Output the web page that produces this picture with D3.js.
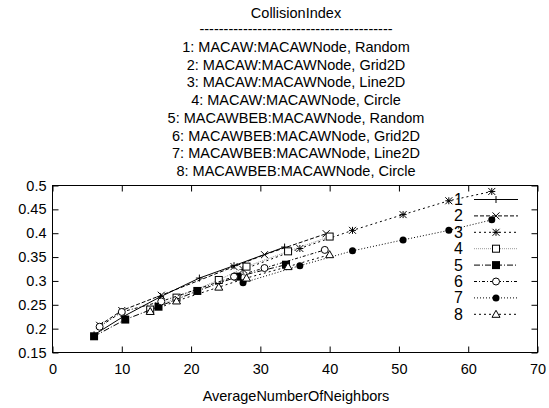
<!DOCTYPE html>
<html><head><meta charset="utf-8">
<script src="https://cdn.jsdelivr.net/npm/d3@7"></script>
<style>
body{margin:0;background:#fff;}
svg text{font-family:"Liberation Sans",Arial,sans-serif;fill:#000;}
</style></head>
<body><svg id="c" width="549" height="408"></svg>
<script>
const titleLines = ["CollisionIndex","----------------------------------------",
 "1: MACAW:MACAWNode, Random","2: MACAW:MACAWNode, Grid2D","3: MACAW:MACAWNode, Line2D","4: MACAW:MACAWNode, Circle",
 "5: MACAWBEB:MACAWNode, Random","6: MACAWBEB:MACAWNode, Grid2D","7: MACAWBEB:MACAWNode, Line2D","8: MACAWBEB:MACAWNode, Circle"];
const xLabel = "AverageNumberOfNeighbors";
const xTicks = [0,10,20,30,40,50,60,70];
const yTicks = [0.15,0.2,0.25,0.3,0.35,0.4,0.45,0.5];
const seriesNames = ["1","2","3","4","5","6","7","8"];
const s1x = [6.0, 10.3, 15.6, 21.2, 26.2, 33.5];
const s1y = [0.187, 0.226, 0.267, 0.306, 0.332, 0.371];
const s2x = [6.8, 10.0, 15.7, 26.2, 30.6, 39.5];
const s2y = [0.207, 0.238, 0.270, 0.330, 0.355, 0.399];
const s3x = [27.5, 35.7, 43.3, 50.6, 57.2, 63.4];
const s3y = [0.324, 0.368, 0.406, 0.439, 0.468, 0.4875];
const s4x = [14.1, 17.9, 24.0, 28.0, 34.0, 40.0];
const s4y = [0.240, 0.265, 0.302, 0.330, 0.362, 0.393];
const s5x = [6.0, 10.5, 15.3, 20.9, 26.7, 33.7];
const s5y = [0.184, 0.219, 0.246, 0.279, 0.309, 0.334];
const s6x = [6.8, 10.0, 15.7, 26.2, 30.6, 39.3];
const s6y = [0.204, 0.235, 0.257, 0.309, 0.327, 0.365];
const s7x = [27.5, 35.7, 43.3, 50.6, 57.2, 63.4];
const s7y = [0.296, 0.332, 0.363, 0.386, 0.406, 0.428];
const s8x = [14.1, 17.9, 24.0, 28.0, 34.0, 40.0];
const s8y = [0.236, 0.258, 0.287, 0.306, 0.330, 0.355];

const allX = [s1x,s2x,s3x,s4x,s5x,s6x,s7x,s8x];
const allY = [s1y,s2y,s3y,s4y,s5y,s6y,s7y,s8y];
const styles = [
 {dash:null, stroke:"#000", mark:"plus"},
 {dash:"4,2", stroke:"#000", mark:"cross"},
 {dash:"2,3", stroke:"#000", mark:"star"},
 {dash:"1,1", stroke:"#999", mark:"box"},
 {dash:"6,2,1,2", stroke:"#000", mark:"fbox"},
 {dash:"3,2,1,2", stroke:"#000", mark:"circle"},
 {dash:"1,2", stroke:"#000", mark:"fcircle"},
 {dash:"2,3", stroke:"#000", mark:"tri"}
];

const svg = d3.select("#c");
const L=52.5, R=537.5, T=185.5, B=352.5;
const x = d3.scaleLinear().domain([0,70]).range([L,R]);
const y = d3.scaleLinear().domain([0.15,0.5]).range([B,T]);

svg.append("g").selectAll("text").data(titleLines).join("text")
  .attr("x",296).attr("y",(d,i)=> i===0?18:(i===1?34:52+(i-2)*17.7))
  .attr("text-anchor","middle").attr("font-size",14.5).text(d=>d);

const fmtY = d=> d3.format(".2~f")(d);
const gB = svg.append("g").attr("transform",`translate(0,${B})`)
  .call(d3.axisBottom(x).tickValues(xTicks).tickSizeInner(-6).tickSizeOuter(0).tickPadding(11));
const gT = svg.append("g").attr("transform",`translate(0,${T})`)
  .call(d3.axisTop(x).tickValues(xTicks).tickSizeInner(-6).tickSizeOuter(0).tickFormat(""));
const gL = svg.append("g").attr("transform",`translate(${L},0)`)
  .call(d3.axisLeft(y).tickValues(yTicks).tickSizeInner(-6).tickSizeOuter(0).tickPadding(6).tickFormat(fmtY));
const gR = svg.append("g").attr("transform",`translate(${R},0)`)
  .call(d3.axisRight(y).tickValues(yTicks).tickSizeInner(-6).tickSizeOuter(0).tickFormat(""));
[gB,gT,gL,gR].forEach(g=>{
  g.select(".domain").remove();
  g.selectAll("line").attr("stroke","#000");
  g.selectAll("text").attr("font-size",14.5).attr("font-family","Liberation Sans, Arial, sans-serif").attr("fill","#000");
});
svg.append("rect").attr("x",L).attr("y",T).attr("width",R-L).attr("height",B-T)
  .attr("fill","none").attr("stroke","#000").attr("stroke-width",1);

svg.append("text").attr("x",296).attr("y",401).attr("text-anchor","middle")
  .attr("font-size",14.5).text(xLabel);

function marker(g, kind, cx, cy){
  const s=3.5;
  const p = (d)=> g.append("path").attr("d",d).attr("stroke","#000").attr("stroke-width",1).attr("fill","none");
  if(kind==="plus"){ p(`M${cx-s},${cy}H${cx+s}M${cx},${cy-s}V${cy+s}`); }
  else if(kind==="cross"){ p(`M${cx-s},${cy-s}L${cx+s},${cy+s}M${cx-s},${cy+s}L${cx+s},${cy-s}`); }
  else if(kind==="star"){ p(`M${cx-s},${cy}H${cx+s}M${cx},${cy-s}V${cy+s}M${cx-s},${cy-s}L${cx+s},${cy+s}M${cx-s},${cy+s}L${cx+s},${cy-s}`); }
  else if(kind==="box"){ g.append("rect").attr("x",cx-s).attr("y",cy-s).attr("width",2*s).attr("height",2*s).attr("fill","#fff").attr("stroke","#000"); }
  else if(kind==="fbox"){ g.append("rect").attr("x",cx-s-0.5).attr("y",cy-s-0.5).attr("width",2*s+1).attr("height",2*s+1).attr("fill","#000"); }
  else if(kind==="circle"){ g.append("circle").attr("cx",cx).attr("cy",cy).attr("r",s).attr("fill","#fff").attr("stroke","#000"); }
  else if(kind==="fcircle"){ g.append("circle").attr("cx",cx).attr("cy",cy).attr("r",s).attr("fill","#000"); }
  else if(kind==="tri"){ p(`M${cx},${cy-s-0.5}L${cx+s+0.5},${cy+s-0.5}L${cx-s-0.5},${cy+s-0.5}Z`).attr("fill","#fff"); }
}

const line = d3.line().x(d=>x(d[0])).y(d=>y(d[1]));
allX.forEach((xs,i)=>{
  const st = styles[i];
  const pts = xs.map((v,j)=>[v, allY[i][j]]);
  const g = svg.append("g");
  g.append("path").attr("d",line(pts)).attr("fill","none").attr("stroke",st.stroke)
    .attr("stroke-width",1).attr("stroke-dasharray",st.dash);
  pts.forEach(p=> marker(g, st.mark, x(p[0]), y(p[1])));
});

const lg = svg.append("g");
seriesNames.forEach((n,i)=>{
  const yy = 199.5 + i*16.4;
  const st = styles[i];
  lg.append("text").attr("x",463).attr("y",yy+5.5).attr("text-anchor","end").attr("font-size",16).text(n);
  lg.append("line").attr("x1",474).attr("x2",518).attr("y1",yy).attr("y2",yy)
    .attr("stroke",st.stroke).attr("stroke-dasharray",st.dash);
  marker(lg, st.mark, 496, yy);
});
</script></body></html>
